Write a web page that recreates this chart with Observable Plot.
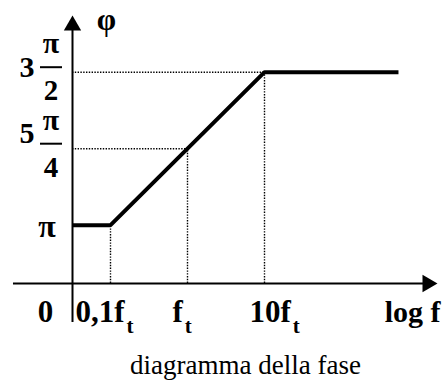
<!DOCTYPE html>
<html>
<head>
<meta charset="utf-8">
<script src="https://cdn.jsdelivr.net/npm/d3@7"></script>
<script src="https://cdn.jsdelivr.net/npm/@observablehq/plot@0.6"></script>
<style>
  html, body { margin: 0; padding: 0; background: #fff; }
  #chart svg { display: block; }
</style>
</head>
<body>
<div id="chart"></div>
<script>
// ---- data (x in decades: log10(f / f_t); y in multiples of π) ----
const tickDecades = [-1, 0, 1];               // 0,1 f_t ; f_t ; 10 f_t
const tickLabels  = ["0,1f", "f", "10f"];     // subscript "t" added after render
const tickPhase   = [1, 1.25, 1.5];           // phase at those frequencies (×π)
const phaseLevels = [1.25, 1.5];              // dotted guide levels (×π)
const fracWhole   = ["5", "3"];
const fracNum     = ["π", "π"];
const fracDen     = ["4", "2"];
const lineDecades = [-1.4935, -1, 1, 2.74];   // asymptotic phase diagram
const linePhase   = [1, 1, 1.5, 1.5];
const yAxisAt     = -1.4935;                  // decade where the φ axis stands
const xAxisAt     = 0.8095;                   // phase level where the log f axis lies
const axisLabelX  = "log f";
const axisLabelY  = "φ";
const captionText = "diagramma della fase";

const serif = "'Liberation Serif', 'Times New Roman', serif";
const dot = {stroke: "#000", strokeWidth: 1.4, strokeDasharray: "1.4,1.4"};
const bold = {fontWeight: "bold", fontFamily: serif, fill: "#000", lineAnchor: "bottom"};

const linePts = lineDecades.map((d, i) => ({d, p: linePhase[i]}));
const ticks = tickDecades.map((d, i) => ({d, label: tickLabels[i], p: tickPhase[i]}));
const levels = phaseLevels.map((p, i) => ({p, d: tickDecades[i + 1]}));
const fracs = phaseLevels.map((p, i) => ({p, whole: fracWhole[i], num: fracNum[i], den: fracDen[i]}));

const chart = Plot.plot({
  width: 443,
  height: 381,
  margin: 0,
  x: {type: "linear", domain: [-2.42857, 3.32468], axis: null},
  y: {type: "linear", domain: [0.48922, 1.73431], axis: null},
  marks: [
    // dotted guides
    Plot.ruleX(ticks, {x: "d", y1: xAxisAt, y2: "p", ...dot}),
    Plot.ruleY(levels, {y: "p", x1: yAxisAt, x2: "d", ...dot}),
    // axes
    Plot.ruleX([yAxisAt], {y1: 0.682, y2: 1.636, stroke: "#000", strokeWidth: 2}),
    Plot.ruleY([xAxisAt], {x1: -2.26, x2: 3.065, stroke: "#000", strokeWidth: 2}),
    Plot.dot([{d: yAxisAt, p: 1.6526}], {x: "d", y: "p", symbol: "triangle", r: 6.43, fill: "#000", stroke: null}),
    Plot.dot([{d: 3.117, p: xAxisAt}], {x: "d", y: "p", symbol: "triangle", r: 6.43, fill: "#000", stroke: null, rotate: 90}),
    // phase curve
    Plot.line(linePts, {x: "d", y: "p", stroke: "#000", strokeWidth: 4, strokeLinejoin: "miter", strokeLinecap: "butt"}),
    // x tick labels (one mark per tick so each gets its own offset)
    Plot.text(ticks.slice(0, 1), {x: "d", y: xAxisAt, text: "label", textAnchor: "start", dx: -35, dy: 39, fontSize: 31, ...bold}),
    Plot.text(ticks.slice(1), {x: "d", y: xAxisAt, text: "label", textAnchor: "start", dx: -15, dy: 39, fontSize: 31, ...bold}),
    Plot.text(["0"], {x: yAxisAt, y: xAxisAt, dx: -27, dy: 39, textAnchor: "middle", fontSize: 31, ...bold}),
    Plot.text([axisLabelX], {x: 3.247, y: xAxisAt, dx: 3, dy: 39, textAnchor: "end", fontSize: 30, ...bold}),
    // y labels
    Plot.text([axisLabelY], {x: yAxisAt, y: 1.6526, dx: 34, dy: 4, textAnchor: "middle", fontSize: 31, ...bold}),
    Plot.text(["π"], {x: yAxisAt, y: 1, dx: -25.5, dy: 12, textAnchor: "middle", fontSize: 32, ...bold}),
    Plot.text(fracs.filter(f => f.p === 1.5), {x: yAxisAt, y: "p", text: "whole", dx: -45.5, dy: 5.3, textAnchor: "middle", fontSize: 30, ...bold}),
    Plot.text(fracs.filter(f => f.p === 1.25), {x: yAxisAt, y: "p", text: "whole", dx: -45.5, dy: -6, textAnchor: "middle", fontSize: 30, ...bold}),
    Plot.text(fracs, {x: yAxisAt, y: "p", text: "num", dx: -21.5, dy: -19, textAnchor: "middle", fontSize: 30, ...bold}),
    Plot.text(fracs, {x: yAxisAt, y: "p", text: "den", dx: -21.5, dy: 28, textAnchor: "middle", fontSize: 29, ...bold}),
    Plot.ruleY(fracs, {y: "p", x1: yAxisAt - 32 / 77, x2: yAxisAt - 10 / 77, dy: -5, stroke: "#000", strokeWidth: 2}),
    // caption
    Plot.text([captionText], {frameAnchor: "bottom", dx: 23.5, dy: -8, lineAnchor: "bottom", textAnchor: "middle",
      fontSize: 27, fontFamily: serif, fill: "#000"})
  ]
});

// subscript t on the frequency tick labels
d3.select(chart).selectAll("text")
  .filter(function() { return tickLabels.includes(this.textContent); })
  .each(function() {
    d3.select(this).append("tspan")
      .attr("dx", 2).attr("dy", 11).attr("font-size", 21).text("t");
  });

document.getElementById("chart").appendChild(chart);
</script>
</body>
</html>
